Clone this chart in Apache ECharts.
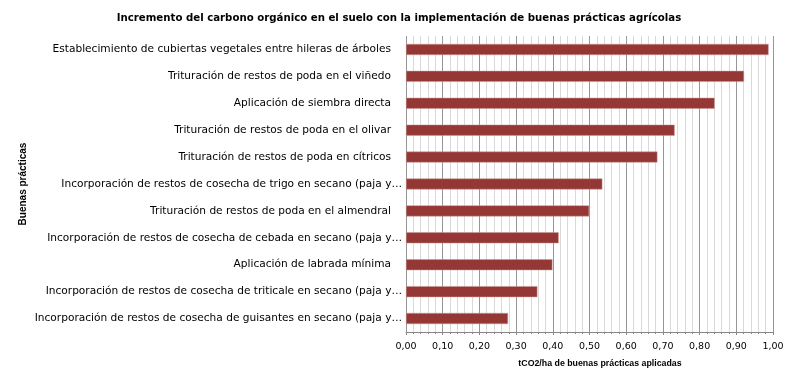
<!DOCTYPE html>
<html><head><meta charset="utf-8">
<script src="https://cdn.jsdelivr.net/npm/echarts@6/dist/echarts.min.js"></script>
<style>html,body{margin:0;padding:0;background:#fff}#c{width:798px;height:385px}</style>
</head><body><div id="c"></div>
<script>
const categories = [
  "Establecimiento de cubiertas vegetales entre hileras de árboles",
  "Trituración de restos de poda en el viñedo",
  "Aplicación de siembra directa",
  "Trituración de restos de poda en el olivar",
  "Trituración de restos de poda en cítricos",
  "Incorporación de restos de cosecha de trigo en secano (paja y…",
  "Trituración de restos de poda en el almendral",
  "Incorporación de restos de cosecha de cebada en secano (paja y…",
  "Aplicación de labrada mínima",
  "Incorporación de restos de cosecha de triticale en secano (paja y…",
  "Incorporación de restos de cosecha de guisantes en secano (paja y…"
];
const values = [0.988, 0.921, 0.841, 0.732, 0.685, 0.535, 0.499, 0.416, 0.399, 0.358, 0.278];
const xTicks = [0, 0.1, 0.2, 0.3, 0.4, 0.5, 0.6, 0.7, 0.8, 0.9, 1.0];

const cats = categories.slice().reverse();
const vals = values.slice().reverse();
const font = "DejaVu Sans";
const lblSize = 10.6;
const chart = echarts.init(document.getElementById('c'));
chart.setOption({
  animation: false,
  title: {
    text: "Incremento del carbono orgánico en el suelo con la implementación de buenas prácticas agrícolas",
    left: 'center', top: 8,
    textStyle: {fontFamily: font, fontSize: 10.2, fontWeight: 'bold', color: '#000'}
  },
  grid: {left: 406, right: 25, top: 36, bottom: 53, containLabel: false},
  xAxis: {
    type: 'value', min: 0, max: 1, interval: 0.1,
    name: "tCO2/ha de buenas prácticas aplicadas",
    nameLocation: 'middle', nameGap: 27,
    nameTextStyle: {fontFamily: "Liberation Sans", fontSize: 8.8, fontWeight: 'bold', color: '#000', padding: [0, 0, 0, 21]},
    axisLine: {show: true, lineStyle: {color: '#868686'}},
    axisTick: {show: true, length: 3, lineStyle: {color: '#868686'}},
    minorTick: {show: true, splitNumber: 5, length: 2, lineStyle: {color: '#868686'}},
    axisLabel: {fontFamily: font, fontSize: 9.5, color: '#000', margin: 10,
      formatter: v => v.toFixed(2).replace('.', ',')},
    splitLine: {show: true, lineStyle: {color: '#969696', width: 1}},
    minorSplitLine: {show: true, lineStyle: {color: '#d9d9d9', width: 1}}
  },
  yAxis: {
    type: 'category', data: cats,
    name: "Buenas prácticas", nameLocation: 'middle', nameGap: 378, nameRotate: 90,
    nameTextStyle: {fontFamily: "Liberation Sans", fontSize: 10, fontWeight: 'bold', color: '#000'},
    axisLine: {show: false},
    axisTick: {show: false},
    axisLabel: {fontFamily: font, fontSize: lblSize, color: '#000', margin: 4,
      formatter: v => v.endsWith('…') ? '{b|' + v + '}' : '{a|' + v + '}',
      rich: {
        a: {fontFamily: font, fontSize: lblSize, color: '#000', padding: [0, 11, 0, 0]},
        b: {fontFamily: font, fontSize: lblSize, color: '#000'}
      }}
  },
  series: [{
    type: 'bar', data: vals, barWidth: 11,
    itemStyle: {color: '#953735', borderColor: '#c99a99', borderWidth: 0.5}
  }]
});
</script></body></html>
